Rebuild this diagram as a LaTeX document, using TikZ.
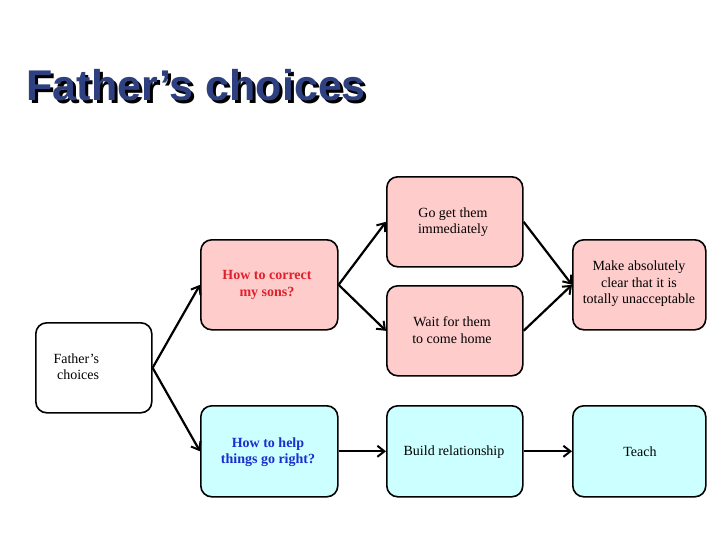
\documentclass[tikz,border=0pt]{standalone}
\usepackage{fontspec}
\setmainfont{Liberation Serif}
\newfontfamily\titlefont{Liberation Sans}
\usetikzlibrary{arrows.meta}
\definecolor{pinkf}{HTML}{FFCCCC}
\definecolor{cyanf}{HTML}{CCFFFF}
\definecolor{titleblue}{HTML}{2E4080}
\definecolor{redt}{HTML}{E0202A}
\definecolor{bluet}{HTML}{1A2ED0}
\begin{document}
\begin{tikzpicture}[x=1pt,y=-1pt,
  box/.style={draw,line width=1.6pt,rounded corners=11pt,anchor=north west,inner sep=0pt},
  lbl/.style={font=\fontsize{14}{16.5}\selectfont,align=center},
  arr/.style={line width=2.2pt,-{Straight Barb[length=7pt,width=11pt,line width=2pt]}}]
\useasboundingbox (0,0) rectangle (728,546);
\node[anchor=west,font=\titlefont\bfseries\fontsize{43}{47}\selectfont,text=black] at (26,88) {Father’s choices};
\node[anchor=west,font=\titlefont\bfseries\fontsize{43}{47}\selectfont,text=titleblue] at (23,85) {Father’s choices};
\node[box,fill=white,minimum width=116pt,minimum height=90pt] (f) at (35,322) {};
\node[box,fill=pinkf,minimum width=137pt,minimum height=90pt] (c) at (200,239) {};
\node[box,fill=cyanf,minimum width=137pt,minimum height=91pt] (h) at (200,405) {};
\node[box,fill=pinkf,minimum width=136pt,minimum height=90pt] (g) at (386,176) {};
\node[box,fill=pinkf,minimum width=136pt,minimum height=90pt] (w) at (386,285) {};
\node[box,fill=pinkf,minimum width=133pt,minimum height=90pt] (m) at (572,239) {};
\node[box,fill=cyanf,minimum width=136pt,minimum height=91pt] (b) at (386,405) {};
\node[box,fill=cyanf,minimum width=133pt,minimum height=91pt] (t) at (572,405) {};
\node[lbl,anchor=north west,align=left] (ft) at (50,350) {Father’s\\ \ choices};
\node[lbl,text=redt,font=\bfseries\fontsize{14}{16.5}\selectfont] (ct) at (267,285) {How to correct\\my sons?};
\node[lbl,text=bluet,font=\bfseries\fontsize{14}{16.5}\selectfont] (ht) at (268,452) {How to help\\things go right?};
\node[lbl] (gt) at (453,222) {Go get them\\immediately};
\node[lbl] (wt) at (452,330) {Wait for them\\to come home};
\node[lbl] (mt) at (639,284) {Make absolutely\\clear that it is\\totally unacceptable};
\node[lbl] (bt) at (454,452) {Build relationship};
\node[lbl] (tt) at (640,452) {Teach};
\draw[arr] (f.east) -- (c.west);
\draw[arr] (f.east) -- (h.west);
\draw[arr] (c.east) -- (g.west);
\draw[arr] (c.east) -- (w.west);
\draw[arr] (g.east) -- (m.west);
\draw[arr] (w.east) -- (m.west);
\draw[arr] (h.east) -- (b.west);
\draw[arr] (b.east) -- (t.west);
\end{tikzpicture}
\end{document}
